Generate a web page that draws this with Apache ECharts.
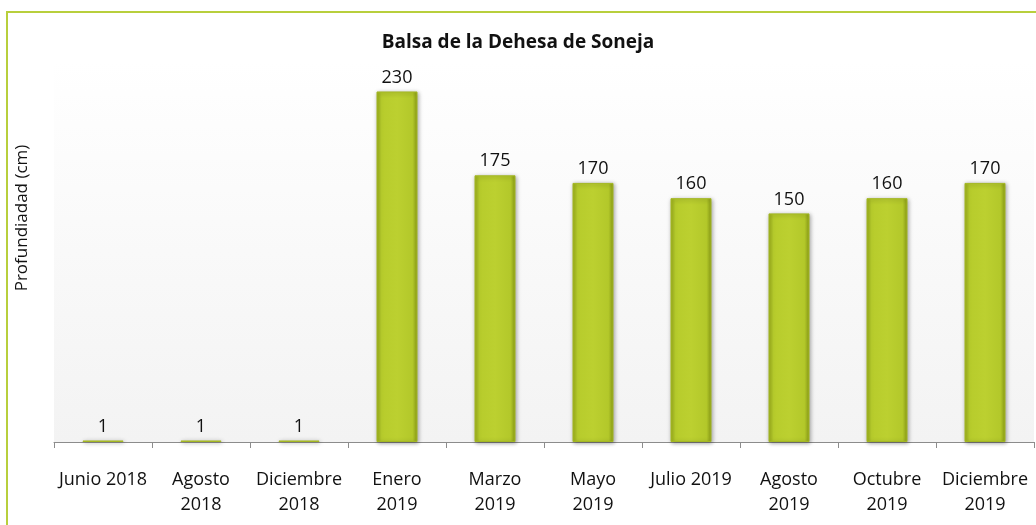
<!DOCTYPE html>
<html>
<head>
<meta charset="utf-8">
<style>
  html, body { margin: 0; padding: 0; background: #fff; }
  #chart { width: 1036px; height: 525px; }
</style>
<script src="https://cdn.jsdelivr.net/npm/echarts@6/dist/echarts.min.js"></script>
</head>
<body>
<div id="chart"></div>
<script>
var categories = ['Junio 2018', 'Agosto\n2018', 'Diciembre\n2018', 'Enero\n2019', 'Marzo\n2019', 'Mayo\n2019', 'Julio 2019', 'Agosto\n2019', 'Octubre\n2019', 'Diciembre\n2019'];
var depth = [1, 1, 1, 230, 175, 170, 160, 150, 160, 170];
var title = 'Balsa de la Dehesa de Soneja';
var yName = 'Profundiadad (cm)';

var font = '"Open Sans", Lato, sans-serif';
var chart = echarts.init(document.getElementById('chart'), null, { renderer: 'canvas' });
chart.setOption({
  animation: false,
  title: {
    text: title, left: 'center', top: 28,
    textStyle: { fontFamily: font, fontSize: 19, fontWeight: 'bold', color: '#111' }
  },
  graphic: [{
    type: 'rect', silent: true,
    shape: { x: 7, y: 12, width: 1100, height: 600 },
    style: { fill: null, stroke: '#b8cf3c', lineWidth: 2 }
  }, {
    // y axis title, sits above the plot's middle as in the source
    type: 'text', silent: true,
    x: 22, y: 218, rotation: Math.PI / 2,
    style: {
      text: yName, fill: '#111', font: '17px ' + font,
      align: 'center', verticalAlign: 'middle'
    }
  }],
  grid: {
    left: 54, right: 2, top: 61, bottom: 83,
    show: true, borderWidth: 0,
    backgroundColor: new echarts.graphic.LinearGradient(0, 0, 0, 1, [
      { offset: 0, color: '#ffffff' }, { offset: 1, color: '#f3f3f3' }
    ])
  },
  xAxis: {
    type: 'category', data: categories,
    axisLine: { lineStyle: { color: '#8c8c8c', width: 1 } },
    axisTick: { show: true, alignWithLabel: false, length: 6, lineStyle: { color: '#8c8c8c' } },
    axisLabel: { interval: 0, color: '#111', fontFamily: font, fontSize: 18, lineHeight: 25, margin: 25 }
  },
  yAxis: {
    type: 'value', min: 0, max: 250,
    axisLine: { show: false }, axisTick: { show: false }, axisLabel: { show: false },
    splitLine: { show: false }
  },
  series: [{
    type: 'bar', data: depth, barWidth: 41,
    itemStyle: {
      color: new echarts.graphic.LinearGradient(0, 0, 1, 0, [
        { offset: 0, color: '#9db11c' },
        { offset: 0.12, color: '#b7cc2c' },
        { offset: 0.5, color: '#bcd030' },
        { offset: 0.88, color: '#b3c82a' },
        { offset: 1, color: '#8c9e16' }
      ]),
      borderColor: '#a4b823', borderWidth: 1,
      shadowColor: 'rgba(0,0,0,0.35)', shadowBlur: 4, shadowOffsetX: 1, shadowOffsetY: 1
    },
    label: {
      show: true, position: 'top', distance: 5,
      color: '#111', fontFamily: font, fontSize: 18
    }
  }]
});
</script>
</body>
</html>
